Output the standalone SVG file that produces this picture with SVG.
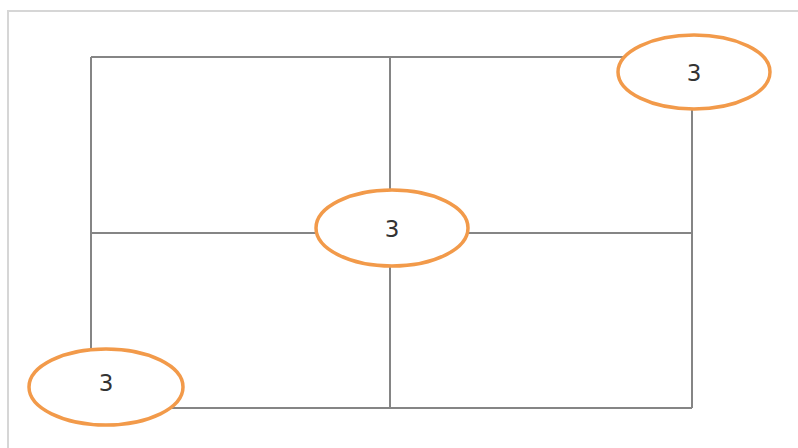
<svg xmlns="http://www.w3.org/2000/svg" width="798" height="448" viewBox="0 0 798 448">
<style>
.g{stroke:#858585;stroke-width:2;fill:none}
.n ellipse{fill:#fff;stroke:#f29a4a;stroke-width:3.5}
.n text{font-family:"DejaVu Sans",sans-serif;font-size:23px;fill:#333;text-anchor:middle;dominant-baseline:central}
</style>
<rect width="798" height="448" fill="#fff"/>
<path d="M8 448V11H798" fill="none" stroke="#d6d6d6" stroke-width="2"/>
<g id="connectors">
<path class="g" d="M91 57H692M91 233H692M91 408H692M91 57V408M390 57V408"/>
<path class="g" d="M692 57V408" stroke-width="3"/>
</g>
<g id="n1" class="n"><ellipse cx="694" cy="72" rx="76" ry="37"/><text x="694" y="73">3</text></g>
<g id="n2" class="n"><ellipse cx="392" cy="228" rx="76" ry="38"/><text x="392" y="229">3</text></g>
<g id="n3" class="n"><ellipse cx="106" cy="387" rx="77" ry="38"/><text x="106" y="383">3</text></g>
</svg>
